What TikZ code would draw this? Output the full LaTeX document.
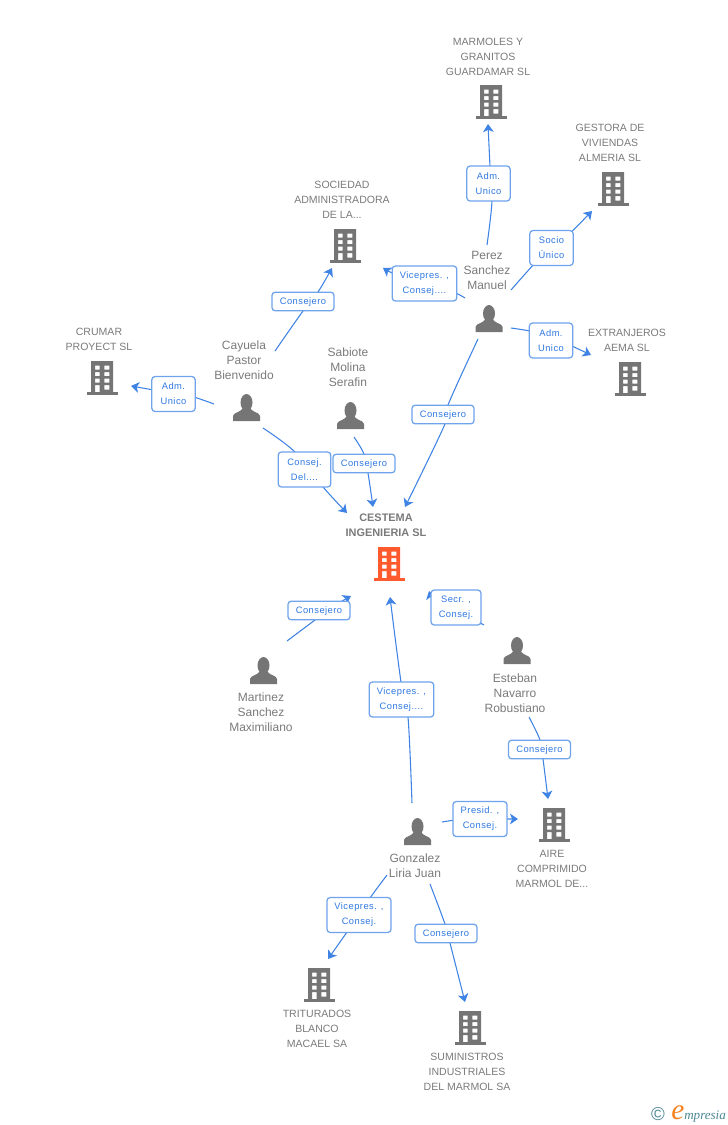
\documentclass[tikz,border=0pt]{standalone}
\usepackage{fontspec}
\setmainfont{Liberation Sans}
\newfontfamily\logofont{Liberation Serif}
\usetikzlibrary{arrows.meta,backgrounds}
\definecolor{icongray}{HTML}{757575}
\definecolor{txtgray}{HTML}{7A7A7A}
\definecolor{accent}{HTML}{FF5A2D}
\definecolor{linkblue}{HTML}{3F83E4}
\definecolor{boxblue}{HTML}{6FA3EC}
\definecolor{lbltxt}{HTML}{2F78E0}
\definecolor{logoteal}{HTML}{4C8796}
\definecolor{logoorange}{HTML}{F58220}
\tikzset{
  x=0.75pt,y=-0.75pt,
  pics/building/.style={code={
    \fill[#1,even odd rule]
      (-11,0) rectangle (11,31)
      (-7,4.5) rectangle (-2.3,8.5) (2.3,4.5) rectangle (7.3,8.5)
      (-7,11) rectangle (-2.3,15) (2.3,11) rectangle (7.3,15)
      (-7,17.5) rectangle (-2.3,21.5) (2.3,17.5) rectangle (7.3,21.5)
      (-7,24) rectangle (-2.3,31) (2.3,24) rectangle (7.3,28.5);
    \fill[#1] (-15.5,31) rectangle (15.5,33.5);
  }},
  pics/person/.style={code={
    \fill[icongray] (0,8.5) ellipse [x radius=6, y radius=8.5];
    \fill[icongray] (-13.5,27) -- (-13.5,22) .. controls (-13.5,18.5) and (-5,18) .. (-3.5,14)
      -- (3.5,14) .. controls (5,18) and (13.5,18.5) .. (13.5,22) -- (13.5,27) -- cycle;
  }},
  company/.style={align=center,inner sep=0,text=txtgray,font=\fontsize{7.9}{11.25}\selectfont},
  maincompany/.style={align=center,inner sep=0,text=txtgray,font=\fontsize{8.2}{11.25}\selectfont\bfseries},
  personname/.style={align=center,inner sep=0,text=txtgray,font=\fontsize{9}{11.25}\selectfont},
  linkbox/.style={draw=boxblue,line width=0.95pt,fill=white,rounded corners=2.4pt,align=center,inner sep=0,
    text=lbltxt,font=\fontsize{7}{11.25}\selectfont\addfontfeatures{LetterSpace=5}},
  oneline/.style={linkbox,minimum width=46.5pt,minimum height=14pt,text height=5pt,text depth=0pt},
  twoline/.style={linkbox,minimum height=26.2pt},
  conn/.style={draw=linkblue,line width=0.8pt,-{Stealth[length=6pt,width=8pt,inset=1.6pt]}},
}
\newcommand{\linkvia}[4]{\draw[conn] plot[smooth,tension=0.55] coordinates {(#1) (#2) (#3) (#4)};}
\begin{document}
\begin{tikzpicture}
\useasboundingbox (0,0) rectangle (728,1125);
% companies
\node[company] (marmoles) at (488,56.5) {MARMOLES Y\\GRANITOS\\GUARDAMAR SL};
\pic at (491,85) {building=icongray};
\node[company] (gestora) at (610,143) {GESTORA DE\\VIVIENDAS\\ALMERIA SL};
\pic at (613,172) {building=icongray};
\node[company] (sociedad) at (342,200) {SOCIEDAD\\ADMINISTRADORA\\DE LA...};
\pic at (345,229) {building=icongray};
\node[company] (crumar) at (99,339.5) {CRUMAR\\PROYECT SL};
\pic at (102,361) {building=icongray};
\node[company] (extranjeros) at (627,340.5) {EXTRANJEROS\\AEMA SL};
\pic at (630,362) {building=icongray};
\node[maincompany] (cestema) at (386,525) {CESTEMA\\INGENIERIA SL};
\pic at (389,547) {building=accent};
\node[company] (aire) at (552,869) {AIRE\\COMPRIMIDO\\MARMOL DE...};
\pic at (554,808) {building=icongray};
\node[company] (triturados) at (317,1029) {TRITURADOS\\BLANCO\\MACAEL SA};
\pic at (319,968) {building=icongray};
\node[company] (suministros) at (467,1072) {SUMINISTROS\\INDUSTRIALES\\DEL MARMOL SA};
\pic at (470,1011) {building=icongray};
% people
\node[personname] (perez) at (487,270.5) {Perez\\Sanchez\\Manuel};
\pic at (489,305) {person};
\node[personname] (cayuela) at (244,360) {Cayuela\\Pastor\\Bienvenido};
\pic at (246.5,394) {person};
\node[personname] (sabiote) at (348,367.5) {Sabiote\\Molina\\Serafin};
\pic at (350.5,402) {person};
\node[personname] (martinez) at (261,712.5) {Martinez\\Sanchez\\Maximiliano};
\pic at (263.5,657) {person};
\node[personname] (esteban) at (515,693.5) {Esteban\\Navarro\\Robustiano};
\pic at (517,637) {person};
\node[personname] (gonzalez) at (415,866) {Gonzalez\\Liria Juan};
\pic at (417.5,818) {person};
% link labels
\node[twoline,minimum width=32.5pt] (l1) at (488.5,183.5) {Adm.\\Unico};
\node[twoline,minimum width=32.5pt] (l2) at (551.5,248) {Socio\\Único};
\node[twoline,minimum width=48.5pt] (l3) at (424.5,283.5) {Vicepres. ,\\Consej....};
\node[twoline,minimum width=32.5pt] (l4) at (551,340.5) {Adm.\\Unico};
\node[oneline] (l5) at (443,414.5) {Consejero};
\node[oneline] (l6) at (303,301.5) {Consejero};
\node[twoline,minimum width=32.5pt] (l7) at (173.5,394) {Adm.\\Unico};
\node[twoline,minimum width=39.5pt] (l8) at (304.5,469.5) {Consej.\\Del....};
\node[oneline] (l9) at (364,463.5) {Consejero};
\node[oneline] (l10) at (319,610.5) {Consejero};
\node[twoline,minimum width=37.5pt] (l11) at (456,607.5) {Secr. ,\\Consej.};
\node[oneline] (l12) at (539.5,749.5) {Consejero};
\node[twoline,minimum width=48.5pt] (l13) at (401.5,699.5) {Vicepres. ,\\Consej....};
\node[twoline,minimum width=40.5pt] (l14) at (480,819) {Presid. ,\\Consej.};
\node[twoline,minimum width=48pt] (l15) at (359,915) {Vicepres. ,\\Consej.};
\node[oneline] (l16) at (446,933.5) {Consejero};
% free ends of the connectors, and the points where they pass behind each label
\coordinate (s1) at (487,245); \coordinate (a1) at (492,201); \coordinate (b1) at (490,166); \coordinate (t1) at (488,124);
\coordinate (s2) at (511,290); \coordinate (a2) at (540,258); \coordinate (b2) at (563,240); \coordinate (t2) at (592,211);
\coordinate (s3) at (465,298); \coordinate (a3) at (448,290); \coordinate (b3) at (402,277); \coordinate (t3) at (383,268);
\coordinate (s4) at (511,328); \coordinate (a4) at (540,333); \coordinate (b4) at (563,342); \coordinate (t4) at (591,355);
\coordinate (s5) at (478,339); \coordinate (a5) at (448,405); \coordinate (b5) at (445,424); \coordinate (t5) at (405,507);
\coordinate (s6) at (275,351); \coordinate (a6) at (303,311); \coordinate (b6) at (318,292); \coordinate (t6) at (332,268);
\coordinate (s7) at (214,404); \coordinate (a7) at (187,395); \coordinate (b7) at (160,391); \coordinate (t7) at (131,386);
\coordinate (s8) at (263,428); \coordinate (a8) at (295,452); \coordinate (b8) at (323,487); \coordinate (t8) at (347,513);
\coordinate (s9) at (354,437); \coordinate (a9) at (364,454); \coordinate (b9) at (368,473); \coordinate (t9) at (373,507);
\coordinate (s10) at (287,641); \coordinate (a10) at (315,620); \coordinate (b10) at (334,606); \coordinate (t10) at (351,596);
\coordinate (s11) at (484,625); \coordinate (a11) at (468,618); \coordinate (b11) at (440,612); \coordinate (t11) at (429,591);
\coordinate (s12) at (529,717); \coordinate (a12) at (540,740); \coordinate (b12) at (543,759); \coordinate (t12) at (548,799);
\coordinate (s13) at (412,803); \coordinate (a13) at (408,717); \coordinate (b13) at (401,682); \coordinate (t13) at (390,597);
\coordinate (s14) at (442,822); \coordinate (a14) at (465,819); \coordinate (b14) at (497,819); \coordinate (t14) at (518,819);
\coordinate (s15) at (387,875); \coordinate (a15) at (370,898); \coordinate (b15) at (347,932); \coordinate (t15) at (328,959);
\coordinate (s16) at (430,884); \coordinate (a16) at (445,924); \coordinate (b16) at (450,943); \coordinate (t16) at (465,1002);
\begin{scope}[on background layer]
\linkvia{s1}{a1}{b1}{t1}
\linkvia{s2}{a2}{b2}{t2}
\linkvia{s3}{a3}{b3}{t3}
\linkvia{s4}{a4}{b4}{t4}
\linkvia{s5}{a5}{b5}{t5}
\linkvia{s6}{a6}{b6}{t6}
\linkvia{s7}{a7}{b7}{t7}
\linkvia{s8}{a8}{b8}{t8}
\linkvia{s9}{a9}{b9}{t9}
\linkvia{s10}{a10}{b10}{t10}
\linkvia{s11}{a11}{b11}{t11}
\linkvia{s12}{a12}{b12}{t12}
\linkvia{s13}{a13}{b13}{t13}
\linkvia{s14}{a14}{b14}{t14}
\linkvia{s15}{a15}{b15}{t15}
\linkvia{s16}{a16}{b16}{t16}
\end{scope}
% logo
\node[inner sep=0,text=logoteal,font=\fontsize{14}{14}\selectfont] (copyr) at (658,1114) {©};
\node[inner sep=0,anchor=base west,text=logoteal,font=\logofont\itshape\fontsize{9.8}{12}\selectfont] (logo) at (671,1119)
  {{\color{logoorange}\fontsize{22}{22}\selectfont e}mpresia};
\end{tikzpicture}
\end{document}
